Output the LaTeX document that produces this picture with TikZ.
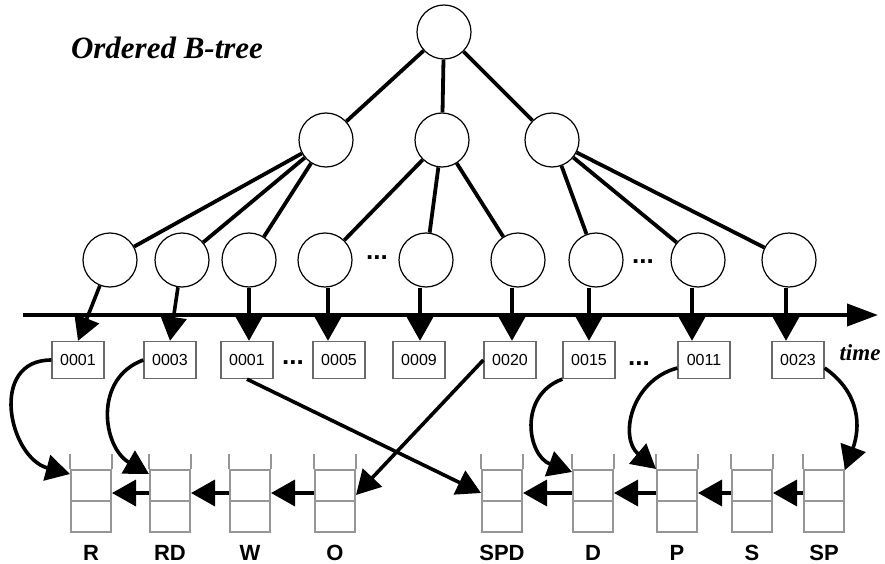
\documentclass[tikz,border=0pt]{standalone}
\usepackage{fontspec}
\setmainfont{Liberation Serif}
\setsansfont{Liberation Sans}
\usetikzlibrary{arrows.meta,positioning}
\usepackage{xcolor}
\definecolor{boxgray}{RGB}{105, 105, 105}
\definecolor{stackgray}{RGB}{150, 150, 150}

\tikzset{
    bnode/.style={circle, draw, line width=1.2pt, minimum size=54pt, inner sep=0pt},
    branch/.style={line width=3.8pt},
    ptr/.style={line width=3.6pt, -{Triangle[length=24pt,width=26pt]}},
    tsbox/.style={rectangle, draw=boxgray, line width=1.3pt, minimum width=52pt,
        minimum height=37pt, inner sep=0pt, font=\sffamily\fontsize{16}{16}\selectfont},
    stack/.style={rectangle, draw=stackgray, line width=2pt, minimum width=40pt,
        minimum height=62pt, inner sep=0pt},
    stacklabel/.style={inner sep=0pt, font=\sffamily\bfseries\fontsize{22}{22}\selectfont},
    ellip/.style={inner sep=0pt, font=\sffamily\bfseries\fontsize{26}{26}\selectfont}
}

\begin{document}
\begin{tikzpicture}[x=1pt, y=-1pt]
            \useasboundingbox (0,0) rectangle (885,564);

            % title
            \node (title) [
                inner sep=0pt,
                font=\fontsize{31}{31}\selectfont\bfseries\itshape
            ] at (167,48) {Ordered B-tree};

            % B-tree
            \node (t0) [bnode] at (444,32) {};
            \node (t1) [bnode] at (326,140) {};
            \node (t2) [bnode] at (442,140) {};
            \node (t3) [bnode] at (552,140) {};

            \node (l1) [bnode] at (110,260) {};
            \node (l2) [bnode] at (182,260) {};
            \node (l3) [bnode] at (249,260) {};
            \node (l4) [bnode] at (325,260) {};
            \node (l5) [bnode] at (426,260) {};
            \node (l6) [bnode] at (518,260) {};
            \node (l7) [bnode] at (596,260) {};
            \node (l8) [bnode] at (698,260) {};
            \node (l9) [bnode] at (789,260) {};
            \node (e1) [ellip] at (377,258) {...};
            \node (e2) [ellip] at (643,262) {...};

            \draw[branch] (t0) -- (t1);
            \draw[branch] (t0) -- (t2);
            \draw[branch] (t0) -- (t3);
            \draw[branch] (t1) -- (l1);
            \draw[branch] (t1) -- (l2);
            \draw[branch] (t1) -- (l3);
            \draw[branch] (t2) -- (l4);
            \draw[branch] (t2) -- (l5);
            \draw[branch] (t2) -- (l6);
            \draw[branch] (t3) -- (l7);
            \draw[branch] (t3) -- (l8);
            \draw[branch] (t3) -- (l9);

            % time axis
            \coordinate (ts) at (23,315);
            \coordinate (te) at (878,315);
            \draw[line width=4pt, -{Triangle[length=31pt,width=22pt]}] (ts) -- (te);
            \node (time) [
                inner sep=0pt,
                font=\fontsize{23}{23}\selectfont\bfseries\itshape
            ] at (860,353) {time};

            % timestamps
            \node (d1) [tsbox] at (78,360) {0001};
            \node (d2) [tsbox] at (170,360) {0003};
            \node (d3) [tsbox] at (247,360) {0001};
            \node (d4) [tsbox] at (339,360) {0005};
            \node (d5) [tsbox] at (419,360) {0009};
            \node (d6) [tsbox] at (510,360) {0020};
            \node (d7) [tsbox] at (589,360) {0015};
            \node (d8) [tsbox] at (704,360) {0011};
            \node (d9) [tsbox] at (798,360) {0023};
            \node (e3) [ellip] at (293,363) {...};
            \node (e4) [ellip] at (639,364) {...};

            \draw[ptr] (l1) -- (d1.north);
            \draw[ptr] (l2) -- (d2.north);
            \draw[ptr] (l3) -- (l3 |- d3.north);
            \draw[ptr] ([xshift=3pt]l4.south) -- ([xshift=3pt]l4.south |- d4.north);
            \draw[ptr] ([xshift=-6pt]l5.south) -- ([xshift=-6pt]l5.south |- d5.north);
            \draw[ptr] ([xshift=-6pt]l6.south) -- ([xshift=-6pt]l6.south |- d6.north);
            \draw[ptr] ([xshift=-7pt]l7.south) -- ([xshift=-7pt]l7.south |- d7.north);
            \draw[ptr] ([xshift=-6pt]l8.south) -- ([xshift=-6pt]l8.south |- d8.north);
            \draw[ptr] ([xshift=-3pt]l9.south) -- ([xshift=-3pt]l9.south |- d9.north);

            % stacks
            \node (sR) [stack] at (91,501) {};
            \node (sRD) [stack] at (170,501) {};
            \node (sW) [stack] at (250,501) {};
            \node (sO) [stack] at (335,501) {};
            \node (sSPD) [stack] at (502,501) {};
            \node (sD) [stack] at (593,501) {};
            \node (sP) [stack] at (677,501) {};
            \node (sS) [stack] at (752,501) {};
            \node (sSP) [stack] at (824,501) {};

            \draw[stackgray, line width=2pt]
                (sR.north west) -- ++(0,-15) (sR.north east) -- ++(0,-15) (sR.west) -- (sR.east)
                (sRD.north west) -- ++(0,-15) (sRD.north east) -- ++(0,-15) (sRD.west) -- (sRD.east)
                (sW.north west) -- ++(0,-15) (sW.north east) -- ++(0,-15) (sW.west) -- (sW.east)
                (sO.north west) -- ++(0,-15) (sO.north east) -- ++(0,-15) (sO.west) -- (sO.east)
                (sSPD.north west) -- ++(0,-15) (sSPD.north east) -- ++(0,-15) (sSPD.west) -- (sSPD.east)
                (sD.north west) -- ++(0,-15) (sD.north east) -- ++(0,-15) (sD.west) -- (sD.east)
                (sP.north west) -- ++(0,-15) (sP.north east) -- ++(0,-15) (sP.west) -- (sP.east)
                (sS.north west) -- ++(0,-15) (sS.north east) -- ++(0,-15) (sS.west) -- (sS.east)
                (sSP.north west) -- ++(0,-15) (sSP.north east) -- ++(0,-15) (sSP.west) -- (sSP.east);

            \node (nR) [stacklabel, below=12pt of sR] {R};
            \node (nRD) [stacklabel, below=12pt of sRD] {RD};
            \node (nW) [stacklabel, below=12pt of sW] {W};
            \node (nO) [stacklabel, below=12pt of sO] {O};
            \node (nSPD) [stacklabel, below=12pt of sSPD] {SPD};
            \node (nD) [stacklabel, below=12pt of sD] {D};
            \node (nP) [stacklabel, below=12pt of sP] {P};
            \node (nS) [stacklabel, below=12pt of sS] {S};
            \node (nSP) [stacklabel, below=12pt of sSP] {SP};

            % links between stacks
            \draw[ptr] ([yshift=8pt]sRD.west) -- ([yshift=8pt]sR.east);
            \draw[ptr] ([yshift=8pt]sW.west) -- ([yshift=8pt]sRD.east);
            \draw[ptr] ([yshift=8pt]sO.west) -- ([yshift=8pt]sW.east);
            \draw[ptr] ([yshift=8pt]sD.west) -- ([yshift=8pt]sSPD.east);
            \draw[ptr] ([yshift=8pt]sP.west) -- ([yshift=8pt]sD.east);
            \draw[ptr] ([yshift=8pt]sS.west) -- ([yshift=8pt]sP.east);
            \draw[ptr] ([yshift=8pt]sSP.west) -- ([yshift=8pt]sS.east);

            % timestamps to stacks
            \draw[ptr, out=180, in=165, looseness=1.4] (d1.west) to ([yshift=-5pt]sR.north west);
            \draw[ptr, out=200, in=150, looseness=1.2] (d2.west) to ([yshift=-5pt]sRD.north west);
            \draw[ptr] (d3.south) -- ([yshift=8pt]sSPD.west);
            \draw[ptr] (d6.west) -- ([yshift=6pt]sO.east);
            \draw[ptr, out=200, in=160, looseness=1.3] (d7.south west) to ([yshift=-3pt]sD.north west);
            \draw[ptr, out=195, in=140, looseness=1.2] ([yshift=-8pt]d8.west) to (sP.north west);
            \draw[ptr, out=-35, in=70, looseness=1.1] ([yshift=-8pt]d9.east) to ([yshift=-1pt]sSP.north east);
        \end{tikzpicture}
\end{document}
